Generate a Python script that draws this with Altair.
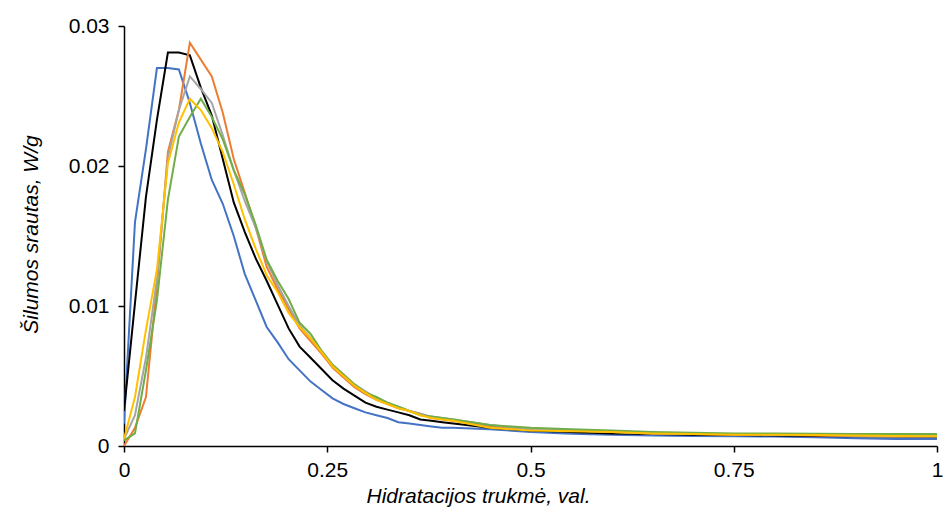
import altair as alt
import pandas as pd

# Hydration time, h
hours = [0, 0.0135, 0.027, 0.0405, 0.054, 0.0675, 0.081, 0.0945, 0.108, 0.1215,
         0.135, 0.1485, 0.162, 0.1755, 0.189, 0.2025, 0.216, 0.2295, 0.243, 0.2565,
         0.27, 0.2835, 0.297, 0.3105, 0.324, 0.3375, 0.351, 0.3645, 0.378, 0.3915,
         0.405, 0.45, 0.5, 0.55, 0.6, 0.65, 0.7, 0.75, 0.8, 0.85, 0.9, 0.95, 1.0]

# Heat flow, W/g
blue = [0.0016, 0.0160, 0.0212, 0.0270, 0.0270, 0.0269, 0.0245, 0.0216, 0.0190, 0.0173,
        0.0150, 0.0123, 0.0104, 0.0085, 0.0074, 0.0062, 0.0054, 0.0046, 0.0040, 0.0034,
        0.0030, 0.0027, 0.0024, 0.0022, 0.0020, 0.0017, 0.0016, 0.0015, 0.0014, 0.0013,
        0.0013, 0.0012, 0.0010, 0.00088, 0.0008, 0.00075, 0.00072, 0.0007, 0.00068,
        0.00062, 0.00055, 0.0005, 0.0005]
black = [0.0025, 0.0102, 0.0178, 0.0233, 0.0281, 0.0281, 0.0279, 0.0256, 0.0236, 0.0205,
         0.0174, 0.0153, 0.0134, 0.0118, 0.0101, 0.0084, 0.0071, 0.0063, 0.0055, 0.0047,
         0.0041, 0.0036, 0.0031, 0.0028, 0.0026, 0.0024, 0.0022, 0.0019, 0.0018, 0.0017,
         0.0016, 0.0013, 0.0011, 0.0010, 0.0009, 0.00085, 0.0008, 0.00078, 0.00075,
         0.00072, 0.0007, 0.00068, 0.00066]
orange = [0.0000, 0.0013, 0.0035, 0.0115, 0.0210, 0.0240, 0.0288, 0.0276, 0.0264, 0.0238,
          0.0205, 0.0181, 0.0156, 0.0128, 0.0112, 0.0098, 0.0084, 0.0075, 0.0066, 0.0056,
          0.0049, 0.0042, 0.0037, 0.0033, 0.0030, 0.0027, 0.0025, 0.0023, 0.0020, 0.0019,
          0.0018, 0.0014, 0.0012, 0.0011, 0.0010, 0.0009, 0.00085, 0.0008, 0.0008,
          0.00075, 0.00072, 0.0007, 0.0007]
gray = [0.0005, 0.0022, 0.0063, 0.0119, 0.0206, 0.0240, 0.0264, 0.0255, 0.0245, 0.0222,
        0.0197, 0.0175, 0.0156, 0.0132, 0.0115, 0.0100, 0.0086, 0.0077, 0.0068, 0.0058,
        0.0051, 0.0044, 0.0039, 0.0034, 0.0031, 0.0028, 0.0025, 0.0023, 0.0021, 0.0020,
        0.0019, 0.0015, 0.0012, 0.0011, 0.0010, 0.0009, 0.00088, 0.00085, 0.0008,
        0.00078, 0.00075, 0.00072, 0.0007]
yellow = [0.0005, 0.0035, 0.0083, 0.0126, 0.0202, 0.0231, 0.0248, 0.0240, 0.0227, 0.0210,
          0.0187, 0.0162, 0.0141, 0.0122, 0.0110, 0.0095, 0.0085, 0.0077, 0.0067, 0.0057,
          0.0050, 0.0043, 0.0038, 0.0033, 0.0030, 0.0027, 0.0025, 0.0022, 0.0020, 0.0019,
          0.0018, 0.0013, 0.0011, 0.00105, 0.0010, 0.0009, 0.00085, 0.0008, 0.0008,
          0.00078, 0.00075, 0.00072, 0.0007]
green = [0.0004, 0.0009, 0.0054, 0.0104, 0.0176, 0.0221, 0.0235, 0.0248, 0.0235, 0.0219,
         0.0197, 0.0180, 0.0158, 0.0133, 0.0118, 0.0105, 0.0088, 0.0080, 0.0068, 0.0058,
         0.0051, 0.0044, 0.0038, 0.0035, 0.0031, 0.0028, 0.0025, 0.0022, 0.0021, 0.0020,
         0.0019, 0.0015, 0.0013, 0.0012, 0.0011, 0.0010, 0.00095, 0.0009, 0.0009,
         0.00088, 0.00085, 0.00085, 0.00085]

series = [
    ("S1", blue, "#4472C4"),
    ("S2", black, "#000000"),
    ("S3", orange, "#ED7D31"),
    ("S4", gray, "#A5A5A5"),
    ("S5", green, "#70AD47"),
    ("S6", yellow, "#FFC000"),
]

rows = []
for name, values, _ in series:
    for t, q in zip(hours, values):
        rows.append({"series": name, "t": t, "q": q})
df = pd.DataFrame(rows)

FONT = "Liberation Sans"
FS = 21

x_enc = alt.X(
    "t:Q",
    scale=alt.Scale(domain=[0, 1], nice=False, zero=False),
    axis=alt.Axis(
        values=[0, 0.25, 0.5, 0.75, 1],
        format=".2~f",
        title="Hidratacijos trukmė, val.",
        titleFont=FONT, titleFontSize=FS, titleFontStyle="italic",
        titleFontWeight="normal", titleColor="#000000",
        titleX=354, titleY=56, titleAlign="center", titleBaseline="alphabetic",
        labelFont=FONT, labelFontSize=FS, labelColor="#000000", labelPadding=7,
        labelFlush=False, labelOverlap=False,
        domainColor="#000000", domainWidth=1.5,
        tickColor="#000000", tickWidth=1.5, tickSize=6,
        grid=False,
    ),
)
y_enc = alt.Y(
    "q:Q",
    scale=alt.Scale(domain=[0, 0.03], nice=False),
    axis=alt.Axis(
        values=[0, 0.01, 0.02, 0.03],
        format=".2~f",
        title="Šilumos srautas, W/g",
        titleFont=FONT, titleFontSize=FS, titleFontStyle="italic",
        titleFontWeight="normal", titleColor="#000000",
        titleX=-93, titleY=208, titleAngle=-90,
        titleAlign="center", titleBaseline="middle",
        labelFont=FONT, labelFontSize=FS, labelColor="#000000", labelPadding=9,
        labelFlush=False, labelOverlap=False,
        domainColor="#000000", domainWidth=1.5,
        tickColor="#000000", tickWidth=1.5, tickSize=6,
        grid=False,
    ),
)

layers = []
for name, _, color in series:
    layers.append(
        alt.Chart(df)
        .transform_filter(alt.datum.series == name)
        .mark_line(color=color, strokeWidth=2, clip=True)
        .encode(x=x_enc, y=y_enc, order="t:Q")
    )

chart = (
    alt.layer(*layers)
    .properties(
        width=813,
        height=420,
        padding={"left": 124, "top": 26, "right": 8, "bottom": 64},
        autosize=alt.AutoSizeParams(type="none"),
        background="#ffffff",
    )
    .configure_view(stroke=None)
)

chart.save("out.html", embed_options={"renderer": "svg", "actions": False})
